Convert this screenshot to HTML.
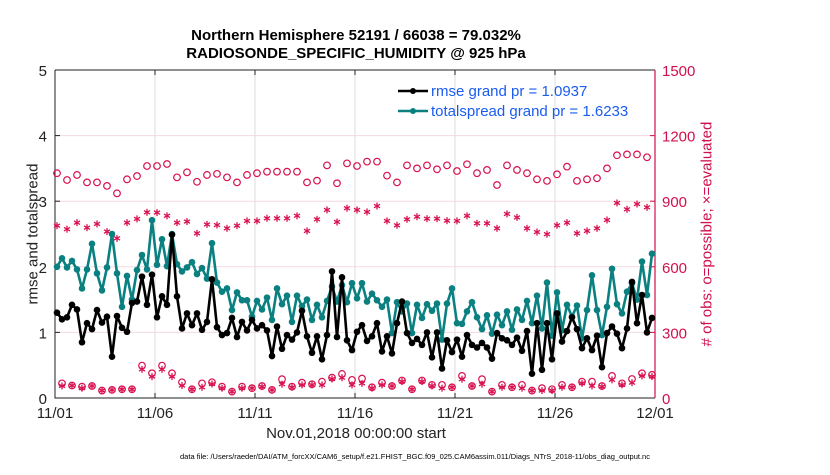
<!DOCTYPE html>
<html><head><meta charset="utf-8"><style>
body{margin:0;background:#fff;width:830px;height:470px;overflow:hidden;font-family:"Liberation Sans",sans-serif}
</style></head><body>
<svg id="c" width="830" height="470" xmlns="http://www.w3.org/2000/svg" font-family="Liberation Sans, sans-serif"></svg>
<script>
const xTickLabels=["11/01","11/06","11/11","11/16","11/21","11/26","12/01"];
const leftTicks=[0,1,2,3,4,5];
const rightTicks=[0,300,600,900,1200,1500];
const rmse=[1.30,1.20,1.23,1.42,1.35,0.85,1.14,1.05,1.34,1.15,1.24,0.63,1.25,1.07,1.01,1.45,1.47,1.85,1.42,1.88,1.23,1.55,1.42,2.49,1.55,1.06,1.29,1.11,1.29,1.04,1.16,1.81,1.08,0.96,0.99,1.22,0.93,1.16,1.03,1.19,1.06,
1.11,1.03,0.64,1.09,0.75,0.96,0.89,1.00,1.33,0.94,0.69,0.94,0.59,0.96,1.93,0.93,1.84,0.88,0.73,1.01,1.11,0.87,0.94,1.14,0.71,0.94,0.68,1.14,1.47,0.99,0.84,0.90,0.81,1.00,0.62,1.00,0.45,0.88,0.70,0.89,
0.63,0.96,0.81,0.77,0.84,0.77,0.60,0.99,0.91,0.88,0.81,0.92,0.72,1.02,0.37,1.14,0.43,1.14,0.59,1.29,0.86,1.02,1.23,1.05,0.76,0.91,0.73,0.95,0.47,0.99,1.09,0.98,0.76,1.06,1.77,1.14,1.57,1.00,1.22];
const spread=[2.00,2.13,1.99,2.09,1.96,1.67,1.96,2.35,1.90,1.64,1.99,2.50,1.90,1.39,1.86,1.50,1.95,2.18,1.96,2.71,2.03,2.42,2.01,2.50,2.04,1.93,1.99,2.07,1.89,1.98,1.82,2.36,1.76,1.62,1.67,1.34,1.61,1.49,1.49,1.24,1.48,
1.35,1.53,1.19,1.67,1.43,1.56,1.16,1.56,1.40,1.50,1.19,1.42,1.23,1.48,1.70,1.47,1.72,1.46,1.75,1.52,1.75,1.47,1.59,1.49,1.39,1.50,0.99,1.46,1.32,1.44,0.99,1.42,1.22,1.43,1.33,1.44,0.89,1.44,1.67,1.14,
1.13,1.32,1.46,1.23,1.05,1.26,0.98,1.27,1.11,1.32,1.04,1.35,1.19,1.48,1.14,1.56,1.06,1.76,0.95,1.61,1.03,1.42,1.24,1.41,0.91,1.34,1.87,1.34,0.96,1.39,1.97,1.43,1.29,1.62,1.75,1.50,2.08,1.57,2.20];
const possEven=[1028,997,1020,986,986,970,936,1000,1015,1061,1061,1070,1009,1032,989,1020,1025,1009,986,1020,1028,1035,1035,1035,1035,986,994,1064,982,1073,1061,1081,1081,1017,986,1064,1050,1064,1046,1064,1038,1069,1028,1043,974,1064,1043,1028,1000,993,1023,1058,993,1000,1005,1050,1110,1114,1114,1101];
const evalEven=[788,772,802,779,796,761,730,802,819,849,848,833,802,807,753,794,791,776,788,810,810,822,822,822,833,764,817,860,805,868,860,851,878,810,790,817,829,820,820,811,810,833,799,799,776,842,826,776,759,749,790,802,753,764,776,814,892,863,887,872];
const possOdd=[67,57,52,55,34,37,40,40,148,113,148,113,72,40,67,72,52,29,52,45,55,37,86,52,70,63,75,93,110,83,89,49,70,55,80,40,80,60,60,49,101,55,86,29,60,49,60,34,45,40,60,49,75,75,55,101,67,87,113,106];
const evalOdd=[55,57,45,55,34,37,40,40,131,98,131,98,57,40,49,64,45,29,45,45,52,37,63,49,60,60,60,87,93,60,67,45,60,55,75,40,75,55,45,49,86,55,63,29,49,49,45,34,34,34,49,49,67,55,52,83,60,70,101,98];

const X0=55,X1=655,Y0=398,Y1=70;
const xd=d=>X0+(X1-X0)*d/30;
const yl=v=>Y0-(Y0-Y1)*v/5;
const yr=v=>Y0-(Y0-Y1)*v/1500;
const tOf=i=>0.1+i*0.25;
const svg=document.getElementById('c');const NS="http://www.w3.org/2000/svg";
function mk(t,a,p){const e=document.createElementNS(NS,t);for(const k in a)e.setAttribute(k,a[k]);(p||svg).appendChild(e);return e;}
function txt(s,a){const e=mk('text',a);e.textContent=s;return e;}

// grid
xTickLabels.forEach((l,i)=>{const x=xd(i*5);
 if(i>0&&i<6){const g=mk('line',{x1:x,x2:x,y1:Y1,y2:Y0,stroke:'#dcdcdc','stroke-width':1});
 
 }
 mk('line',{x1:x,x2:x,y1:Y0,y2:Y0-5,stroke:'#222'});
 mk('line',{x1:x,x2:x,y1:Y1,y2:Y1+5,stroke:'#222'});
 const t=txt(l,{x:x,y:Y0+20,'font-size':15,'text-anchor':'middle',fill:'#222'});
 
 
});
rightTicks.forEach(v=>{const y=yr(v);
 if(v>0&&v<1500){const g=mk('line',{x1:X0,x2:X1,y1:y,y2:y,stroke:'#f2d9e2','stroke-width':1});
 
 }
 mk('line',{x1:X1,x2:X1-5,y1:y,y2:y,stroke:'#d0104c'});
 const t=txt(String(v),{x:X1+7,y:y+6,'font-size':15,fill:'#d0104c'});
 
 
});
leftTicks.forEach(v=>{const y=yl(v);
 mk('line',{x1:X0,x2:X0+5,y1:y,y2:y,stroke:'#222'});
 const t=txt(String(v),{x:X0-8,y:y+6,'font-size':15,'text-anchor':'end',fill:'#222'});
 
 
});
// axes
const ax=mk('path',{d:`M${X0},${Y1}V${Y0}H${X1}`,fill:'none',stroke:'#222','stroke-width':1});


mk('line',{x1:X0,x2:X1,y1:Y1,y2:Y1,stroke:'#222'});
const ra=mk('line',{x1:X1,x2:X1,y1:Y1,y2:Y0,stroke:'#d0104c','stroke-width':1.2});



// obs markers
const pink='#d8114f';
function star(x,y,g){for(let k=0;k<3;k++){const a=k*Math.PI/3+Math.PI/2;mk('line',{x1:x-3.5*Math.cos(a),y1:y-3.5*Math.sin(a),x2:x+3.5*Math.cos(a),y2:y+3.5*Math.sin(a),stroke:pink,'stroke-width':1.3},g);}}
const gP=mk('g',{});
const gE=mk('g',{});
for(let i=0;i<120;i++){const j=i>>1;const even=i%2===0;
 const p=even?possEven[j]:possOdd[j];const e=even?evalEven[j]:evalOdd[j];const x=xd(tOf(i));
 const c=mk('circle',{cx:x,cy:yr(p),r:3.3,fill:'none',stroke:pink,'stroke-width':1.2},gP);
 
 
 star(x,yr(e),gE);
}

function series(arr,color,name){
 const g=mk('g',{});
 mk('polyline',{points:arr.map((v,i)=>xd(tOf(i))+','+yl(v)).join(' '),fill:'none',stroke:color,'stroke-width':2.6,'stroke-linejoin':'round'},g);
 arr.forEach((v,i)=>{const c=mk('circle',{cx:xd(tOf(i)),cy:yl(v),r:3.3,fill:color},g);
 
 });
}
series(spread,'#0b8080','totalspread-line');
series(rmse,'#000','rmse-line');

// legend
const lg=mk('g',{});
[['#000','rmse grand pr = 1.0937',91],['#0b8080','totalspread grand pr = 1.6233',111]].forEach(([c,s,y])=>{
 mk('line',{x1:398,x2:428,y1:y,y2:y,stroke:c,'stroke-width':2.6},lg);
 mk('circle',{cx:413,cy:y,r:3,fill:c},lg);
 const t=mk('text',{x:431,y:y+5,'font-size':15,fill:'#1a5cf0'},lg);t.textContent=s;
 
 
});
</script>
<div style="position:absolute;left:0;top:0;width:830px;height:470px;pointer-events:none">
<div style="position:absolute;left:0;width:712px;top:27px;text-align:center;font-weight:bold;font-size:15px;line-height:18px;color:#000">Northern Hemisphere 52191 / 66038 = 79.032%<br>RADIOSONDE_SPECIFIC_HUMIDITY @ 925 hPa</div>
<div style="position:absolute;left:33px;top:234px;transform:translate(-50%,-50%) rotate(-90deg);white-space:nowrap;font-size:15px;color:#222">rmse and totalspread</div>
<div style="position:absolute;left:707px;top:234px;transform:translate(-50%,-50%) rotate(-90deg);white-space:nowrap;font-size:15px;color:#d0104c"># of obs: o=possible; ×=evaluated</div>
<div style="position:absolute;left:0;width:712px;top:425px;text-align:center;font-size:15px;color:#222">Nov.01,2018 00:00:00 start</div>
<div style="position:absolute;left:0;width:830px;top:452px;text-align:center;font-size:7.5px;color:#000">data file: /Users/raeder/DAI/ATM_forcXX/CAM6_setup/f.e21.FHIST_BGC.f09_025.CAM6assim.011/Diags_NTrS_2018-11/obs_diag_output.nc</div>
</div>
</body></html>
